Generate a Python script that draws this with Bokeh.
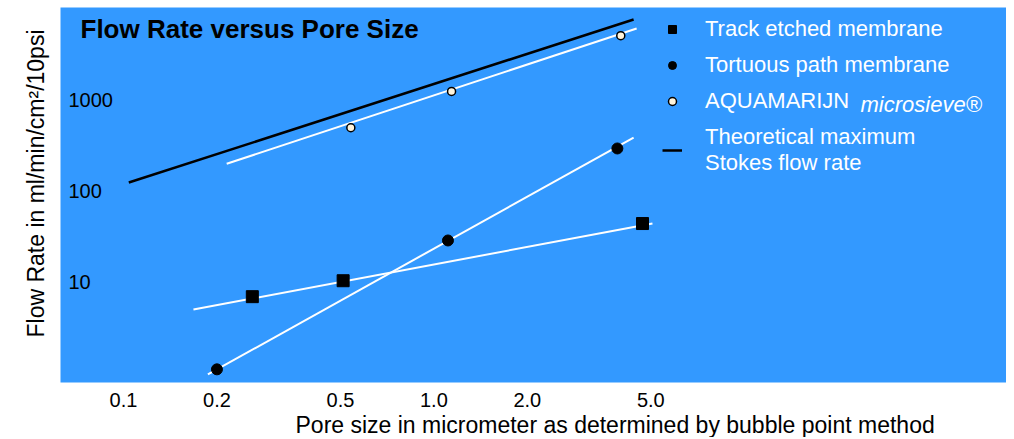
from bokeh.plotting import figure
from bokeh.models import FixedTicker, Label, Legend, LegendItem, Range1d, Title
from bokeh.core.properties import value
from bokeh.embed import file_html
from bokeh.resources import INLINE

# ---- data ----
track_x = [0.26, 0.51, 4.7]
track_y = [6.8, 10.2, 43.7]
track_fit_x = [0.168, 5.06]
track_fit_y = [4.9, 43.7]

tort_x = [0.20, 1.11, 3.9]
tort_y = [1.07, 28.4, 295]
tort_fit_x = [0.187, 4.4]
tort_fit_y = [0.94, 390]

aqua_x = [0.54, 1.14, 4.0]
aqua_y = [500, 1260, 5200]
aqua_fit_x = [0.215, 4.5]
aqua_fit_y = [200, 6250]

theory_x = [0.104, 4.4]
theory_y = [124, 7850]

x_ticks = [0.1, 0.2, 0.5, 1.0, 2.0, 5.0]
x_tick_labels = ["0.1", "0.2", "0.5", "1.0", "2.0", "5.0"]
y_ticks = [10, 100, 1000]
y_tick_labels = ["10", "100", "1000"]

X_START, X_END = 0.06266, 69.95
Y_START, Y_END = 0.7656, 10656

FONT = "Liberation Sans"
BG = "#3399FF"

p = figure(frame_width=946, frame_height=375, x_axis_type="log", y_axis_type="log",
           x_range=Range1d(X_START, X_END), y_range=Range1d(Y_START, Y_END),
           output_backend="svg", toolbar_location=None,
           min_border_left=60, min_border_right=0, min_border_top=7, min_border_bottom=49)
p.background_fill_color = BG
p.border_fill_color = "white"
p.outline_line_color = None
p.grid.visible = False

# x axis (tick labels only; title added below)
p.xaxis.ticker = FixedTicker(ticks=x_ticks, minor_ticks=[])
p.xaxis.major_label_overrides = dict(zip(x_ticks, x_tick_labels))
p.xaxis.axis_line_color = None
p.xaxis.major_tick_line_color = None
p.xaxis.minor_tick_line_color = None
p.xaxis.major_label_standoff = 4
p.xaxis.major_label_text_font = FONT
p.xaxis.major_label_text_font_size = "20px"
p.xaxis.major_label_text_color = "black"

# y axis hidden: tick labels are drawn inside the frame, title on the left
p.yaxis.visible = False

p.add_layout(Title(text="Pore size in micrometer as determined by bubble point method",
                   align="left", offset=235, standoff=0, text_font=FONT,
                   text_font_size="23px", text_font_style="normal", text_color="black"),
             "below")
p.add_layout(Title(text="Flow Rate in ml/min/cm²/10psi",
                   align="left", offset=45, standoff=24, text_font=FONT,
                   text_font_size="23px", text_font_style="normal", text_color="black"),
             "left")

p.text(x=[X_START] * len(y_ticks), y=y_ticks, text=y_tick_labels, x_offset=8,
       text_font=value(FONT), text_font_size="20px", text_color="black",
       text_baseline="middle", text_align="left")

# lines
r_theory = p.line(theory_x, theory_y, line_color="black", line_width=2.5)
p.line(aqua_fit_x, aqua_fit_y, line_color="white", line_width=2)
p.line(tort_fit_x, tort_fit_y, line_color="white", line_width=2)
p.line(track_fit_x, track_fit_y, line_color="white", line_width=2)

# markers
r_track = p.scatter(track_x, track_y, marker="square", size=12, fill_color="black", line_color="black")
r_tort = p.scatter(tort_x, tort_y, marker="circle", size=11, fill_color="black", line_color="black")
r_aqua = p.scatter(aqua_x, aqua_y, marker="circle", size=8, fill_color="#fff4dc", line_color="black", line_width=1.5)

legend = Legend(items=[
    LegendItem(label="Track etched membrane", renderers=[r_track]),
    LegendItem(label="Tortuous path membrane", renderers=[r_tort]),
    LegendItem(label="AQUAMARIJN", renderers=[r_aqua]),
    LegendItem(label="Theoretical maximum\nStokes flow rate", renderers=[r_theory]),
], location=(602, 206), padding=0, margin=0, spacing=10,
   glyph_width=20, glyph_height=20, label_standoff=23, label_height=20,
   label_text_font=FONT, label_text_font_size="22px", label_text_color="white",
   background_fill_alpha=0, border_line_color=None)
p.add_layout(legend)

p.add_layout(Label(x=800, y=278, x_units="screen", y_units="screen", text="microsieve®",
                   text_font=FONT, text_font_size="22px", text_font_style="italic",
                   text_color="white", text_baseline="middle"))

p.add_layout(Label(x=20, y=354, x_units="screen", y_units="screen",
                   text="Flow Rate versus  Pore Size", text_font=FONT,
                   text_font_size="26px", text_font_style="bold", text_color="black",
                   text_baseline="middle"))

open("out.html", "w").write(file_html(p, INLINE))
